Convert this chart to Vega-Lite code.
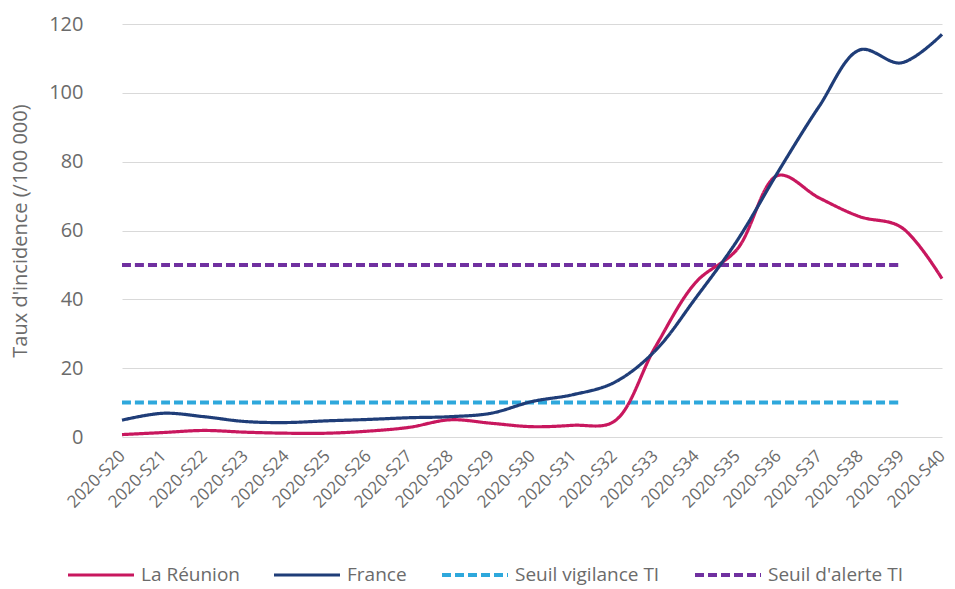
{
  "$schema": "https://vega.github.io/schema/vega-lite/v6.json",
  "width": 854,
  "height": 413,
  "autosize": {"type": "none"},
  "padding": {"left": 101, "top": 24, "right": 0, "bottom": 152},
  "background": "white",
  "config": {
    "font": "Open Sans",
    "view": {"stroke": null},
    "axis": {"labelColor": "#6b6b6b", "titleColor": "#6b6b6b"}
  },
  "data": {
    "values": [
      {"week": "2020-S20", "series": "Seuil vigilance TI", "value": 10},
      {"week": "2020-S21", "series": "Seuil vigilance TI", "value": 10},
      {"week": "2020-S22", "series": "Seuil vigilance TI", "value": 10},
      {"week": "2020-S23", "series": "Seuil vigilance TI", "value": 10},
      {"week": "2020-S24", "series": "Seuil vigilance TI", "value": 10},
      {"week": "2020-S25", "series": "Seuil vigilance TI", "value": 10},
      {"week": "2020-S26", "series": "Seuil vigilance TI", "value": 10},
      {"week": "2020-S27", "series": "Seuil vigilance TI", "value": 10},
      {"week": "2020-S28", "series": "Seuil vigilance TI", "value": 10},
      {"week": "2020-S29", "series": "Seuil vigilance TI", "value": 10},
      {"week": "2020-S30", "series": "Seuil vigilance TI", "value": 10},
      {"week": "2020-S31", "series": "Seuil vigilance TI", "value": 10},
      {"week": "2020-S32", "series": "Seuil vigilance TI", "value": 10},
      {"week": "2020-S33", "series": "Seuil vigilance TI", "value": 10},
      {"week": "2020-S34", "series": "Seuil vigilance TI", "value": 10},
      {"week": "2020-S35", "series": "Seuil vigilance TI", "value": 10},
      {"week": "2020-S36", "series": "Seuil vigilance TI", "value": 10},
      {"week": "2020-S37", "series": "Seuil vigilance TI", "value": 10},
      {"week": "2020-S38", "series": "Seuil vigilance TI", "value": 10},
      {"week": "2020-S39", "series": "Seuil vigilance TI", "value": 10},
      {"week": "2020-S20", "series": "Seuil d'alerte TI", "value": 50},
      {"week": "2020-S21", "series": "Seuil d'alerte TI", "value": 50},
      {"week": "2020-S22", "series": "Seuil d'alerte TI", "value": 50},
      {"week": "2020-S23", "series": "Seuil d'alerte TI", "value": 50},
      {"week": "2020-S24", "series": "Seuil d'alerte TI", "value": 50},
      {"week": "2020-S25", "series": "Seuil d'alerte TI", "value": 50},
      {"week": "2020-S26", "series": "Seuil d'alerte TI", "value": 50},
      {"week": "2020-S27", "series": "Seuil d'alerte TI", "value": 50},
      {"week": "2020-S28", "series": "Seuil d'alerte TI", "value": 50},
      {"week": "2020-S29", "series": "Seuil d'alerte TI", "value": 50},
      {"week": "2020-S30", "series": "Seuil d'alerte TI", "value": 50},
      {"week": "2020-S31", "series": "Seuil d'alerte TI", "value": 50},
      {"week": "2020-S32", "series": "Seuil d'alerte TI", "value": 50},
      {"week": "2020-S33", "series": "Seuil d'alerte TI", "value": 50},
      {"week": "2020-S34", "series": "Seuil d'alerte TI", "value": 50},
      {"week": "2020-S35", "series": "Seuil d'alerte TI", "value": 50},
      {"week": "2020-S36", "series": "Seuil d'alerte TI", "value": 50},
      {"week": "2020-S37", "series": "Seuil d'alerte TI", "value": 50},
      {"week": "2020-S38", "series": "Seuil d'alerte TI", "value": 50},
      {"week": "2020-S39", "series": "Seuil d'alerte TI", "value": 50},
      {"week": "2020-S20", "series": "La Réunion", "value": 0.7},
      {"week": "2020-S21", "series": "La Réunion", "value": 1.3},
      {"week": "2020-S22", "series": "La Réunion", "value": 1.9},
      {"week": "2020-S23", "series": "La Réunion", "value": 1.4},
      {"week": "2020-S24", "series": "La Réunion", "value": 1.1},
      {"week": "2020-S25", "series": "La Réunion", "value": 1.1},
      {"week": "2020-S26", "series": "La Réunion", "value": 1.7},
      {"week": "2020-S27", "series": "La Réunion", "value": 2.8},
      {"week": "2020-S28", "series": "La Réunion", "value": 5.0},
      {"week": "2020-S29", "series": "La Réunion", "value": 4.0},
      {"week": "2020-S30", "series": "La Réunion", "value": 3.0},
      {"week": "2020-S31", "series": "La Réunion", "value": 3.4},
      {"week": "2020-S32", "series": "La Réunion", "value": 4.5},
      {"week": "2020-S33", "series": "La Réunion", "value": 26},
      {"week": "2020-S34", "series": "La Réunion", "value": 45},
      {"week": "2020-S35", "series": "La Réunion", "value": 54.5},
      {"week": "2020-S36", "series": "La Réunion", "value": 76},
      {"week": "2020-S37", "series": "La Réunion", "value": 69.5},
      {"week": "2020-S38", "series": "La Réunion", "value": 64},
      {"week": "2020-S39", "series": "La Réunion", "value": 61},
      {"week": "2020-S40", "series": "La Réunion", "value": 46},
      {"week": "2020-S20", "series": "France", "value": 4.9},
      {"week": "2020-S21", "series": "France", "value": 6.9},
      {"week": "2020-S22", "series": "France", "value": 5.9},
      {"week": "2020-S23", "series": "France", "value": 4.5},
      {"week": "2020-S24", "series": "France", "value": 4.2},
      {"week": "2020-S25", "series": "France", "value": 4.7},
      {"week": "2020-S26", "series": "France", "value": 5.1},
      {"week": "2020-S27", "series": "France", "value": 5.6},
      {"week": "2020-S28", "series": "France", "value": 5.9},
      {"week": "2020-S29", "series": "France", "value": 6.9},
      {"week": "2020-S30", "series": "France", "value": 10.3},
      {"week": "2020-S31", "series": "France", "value": 12.3},
      {"week": "2020-S32", "series": "France", "value": 15.8},
      {"week": "2020-S33", "series": "France", "value": 25},
      {"week": "2020-S34", "series": "France", "value": 40.5},
      {"week": "2020-S35", "series": "France", "value": 57},
      {"week": "2020-S36", "series": "France", "value": 77},
      {"week": "2020-S37", "series": "France", "value": 96},
      {"week": "2020-S38", "series": "France", "value": 112.5},
      {"week": "2020-S39", "series": "France", "value": 108.7},
      {"week": "2020-S40", "series": "France", "value": 117}
    ]
  },
  "mark": {"type": "line", "interpolate": "catmull-rom", "strokeCap": "butt"},
  "encoding": {
    "x": {
      "field": "week",
      "type": "ordinal",
      "scale": {"type": "point", "range": [21, 841], "padding": 0},
      "axis": {
        "title": null,
        "domain": false,
        "ticks": false,
        "grid": false,
        "labelAngle": -45,
        "labelAlign": "right",
        "labelBaseline": "middle",
        "labelPadding": 16,
        "labelFontSize": 17
      }
    },
    "y": {
      "field": "value",
      "type": "quantitative",
      "scale": {"domain": [0, 120], "nice": false},
      "axis": {
        "title": "Taux d'incidence (/100 000)",
        "titleFontSize": 20,
        "titleFontWeight": "normal",
        "titlePadding": 18,
        "values": [0, 20, 40, 60, 80, 100, 120],
        "domain": false,
        "ticks": false,
        "labelPadding": 18,
        "labelFontSize": 20,
        "gridColor": "#d9d9d9",
        "gridWidth": 1.2
      }
    },
    "color": {
      "field": "series",
      "type": "nominal",
      "scale": {
        "domain": ["La Réunion", "France", "Seuil vigilance TI", "Seuil d'alerte TI"],
        "range": ["#c8175e", "#1f3d78", "#2ea8dc", "#7030a0"]
      },
      "legend": {
        "title": null,
        "orient": "none",
        "legendX": -35,
        "legendY": 516,
        "direction": "horizontal",
        "columns": 4,
        "columnPadding": 27,
        "symbolType": "stroke",
        "symbolSize": 4356,
        "symbolStrokeWidth": 4,
        "labelFontSize": 19,
        "labelColor": "#6b6b6b",
        "labelOffset": 5,
        "labelLimit": 400
      }
    },
    "strokeDash": {
      "field": "series",
      "type": "nominal",
      "scale": {
        "domain": ["La Réunion", "France", "Seuil vigilance TI", "Seuil d'alerte TI"],
        "range": [[1, 0], [1, 0], [9, 4], [9, 4]]
      },
      "legend": {
        "title": null,
        "orient": "none",
        "legendX": -35,
        "legendY": 516,
        "direction": "horizontal",
        "columns": 4,
        "columnPadding": 27,
        "symbolType": "stroke",
        "symbolSize": 4356,
        "symbolStrokeWidth": 4,
        "labelFontSize": 19,
        "labelColor": "#6b6b6b",
        "labelOffset": 5,
        "labelLimit": 400
      }
    },
    "strokeWidth": {
      "field": "series",
      "type": "nominal",
      "scale": {
        "type": "ordinal",
        "domain": ["La Réunion", "France", "Seuil vigilance TI", "Seuil d'alerte TI"],
        "range": [3.2, 3.2, 4, 4]
      },
      "legend": null
    }
  }
}
